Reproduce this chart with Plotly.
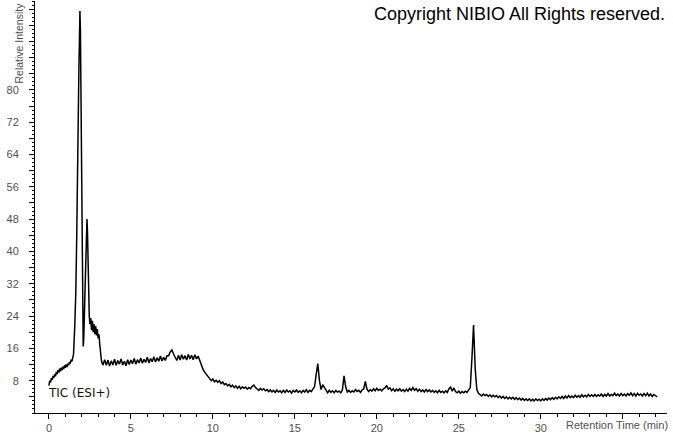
import plotly.graph_objects as go

# --- early region (explicit retention time / intensity pairs) ---
early_time = [0.00, 0.05, 0.10, 0.15, 0.20, 0.25, 0.30, 0.35, 0.40, 0.45,
              0.50, 0.55, 0.60, 0.65, 0.70, 0.75, 0.80, 0.85, 0.90, 0.95,
              1.00, 1.05, 1.10, 1.15, 1.20, 1.25, 1.30, 1.35, 1.40, 1.45,
              1.50, 1.58, 1.64, 1.70, 1.76, 1.80, 1.83, 1.86, 1.89, 1.92,
              1.95, 1.99, 2.03, 2.06, 2.09, 2.12, 2.16, 2.20, 2.24, 2.28,
              2.32, 2.35, 2.38, 2.42, 2.46, 2.50, 2.55, 2.60, 2.65, 2.70,
              2.75, 2.80, 2.85, 2.90, 2.95, 3.00, 3.05, 3.10, 3.15, 3.20, 3.25]
early_intensity = [6.8, 8.0, 7.6, 8.6, 8.2, 9.2, 8.7, 9.6, 9.1, 10.2,
                   9.6, 10.6, 10.0, 11.0, 10.3, 11.2, 10.6, 11.5, 10.9, 11.8,
                   11.2, 12.0, 11.4, 12.2, 11.8, 12.6, 12.4, 13.0, 12.8, 13.5,
                   14.5, 22.0, 30.0, 45.0, 70.0, 82.0, 86.0, 92.0, 99.5, 95.0,
                   80.0, 62.0, 32.0, 20.0, 16.5, 18.0, 24.0, 32.0, 40.0, 44.0,
                   48.0, 45.0, 36.0, 28.0, 24.0, 22.0, 23.5, 20.5, 22.8, 20.0,
                   22.0, 19.5, 21.5, 19.2, 20.8, 18.5, 19.5, 17.0, 14.5, 13.0, 12.2]

# --- later region, sampled every 0.1 min starting at 3.3 min ---
later_start = 3.3
later_step = 0.1
later_intensity = [
    12.0, 13.2, 11.8, 13.1, 11.6, 12.9, 11.9, 13.3, 11.8, 13.0,   # 3.3
    12.1, 13.4, 11.9, 12.8, 11.7, 13.2, 12.0, 13.1, 12.2, 13.5,   # 4.3
    12.1, 13.2, 12.4, 13.6, 12.3, 13.3, 12.5, 13.8, 12.4, 13.5,   # 5.3
    12.7, 13.9, 12.6, 13.7, 12.8, 14.1, 12.9, 13.8, 13.0, 14.2,   # 6.3
    14.2, 15.1, 15.6, 14.6, 13.9, 13.0, 14.3, 13.1, 14.4, 13.3,   # 7.3
    14.2, 13.1, 14.5, 13.4, 14.3, 13.2, 14.4, 13.4, 14.1, 12.9,   # 8.3
    11.9, 10.8, 10.1, 9.5, 8.9, 8.6, 8.0, 8.4, 7.7, 8.1,          # 9.3
    7.6, 8.0, 7.3, 7.7, 7.0, 7.3, 6.7, 7.1, 6.5, 6.9,             # 10.3
    6.3, 6.7, 6.1, 6.6, 6.0, 6.5, 6.1, 6.4, 5.9, 6.3,             # 11.3
    6.0, 6.6, 6.9, 6.3, 6.0, 5.6, 6.1, 5.7, 6.0, 5.5,             # 12.3
    5.8, 5.3, 5.7, 5.2, 5.6, 5.1, 5.7, 5.2, 5.5, 5.0,             # 13.3
    5.6, 5.1, 5.7, 5.2, 5.5, 4.9, 5.6, 5.2, 5.7, 5.1,             # 14.3
    5.5, 5.0, 5.6, 5.2, 5.8, 5.1, 5.6, 5.3, 5.9, 6.5,             # 15.3
    9.5, 12.2, 8.0, 5.8, 7.0, 6.2, 5.4, 5.0, 5.6, 5.1,            # 16.3
    5.5, 5.0, 5.6, 5.2, 5.4, 5.0, 5.7, 9.2, 6.5, 5.2,             # 17.3
    5.6, 5.1, 5.5, 5.2, 5.8, 5.3, 5.6, 5.1, 5.7, 6.0,             # 18.3
    7.8, 5.9, 5.3, 5.8, 5.4, 6.0, 5.5, 6.1, 5.6, 5.9,             # 19.3
    5.5, 6.0, 6.2, 6.8, 5.9, 6.2, 5.5, 6.0, 5.4, 5.9,             # 20.3
    5.5, 6.0, 5.4, 5.8, 5.3, 5.9, 5.4, 6.1, 5.6, 6.3,             # 21.3
    5.6, 6.0, 5.4, 5.9, 5.3, 5.7, 5.2, 5.8, 5.3, 5.7,             # 22.3
    5.2, 5.6, 5.1, 5.5, 5.0, 5.6, 5.1, 5.4, 5.0, 5.5,             # 23.3
    5.1, 6.0, 6.4, 5.4, 6.2, 5.3, 5.0, 5.4, 4.9, 5.3,             # 24.3
    5.0, 5.4, 5.1, 5.6, 6.3, 13.5, 21.8, 11.0, 5.8, 4.9,          # 25.3
    4.6, 4.2, 4.7, 4.3, 4.6, 4.1, 4.5, 4.0, 4.4, 4.0,             # 26.3
    4.3, 3.8, 4.2, 3.7, 4.1, 3.6, 4.0, 3.5, 3.9, 3.5,             # 27.3
    3.9, 3.4, 3.8, 3.3, 3.7, 3.2, 3.6, 3.1, 3.5, 3.1,             # 28.3
    3.5, 3.0, 3.4, 3.0, 3.5, 3.1, 3.4, 3.0, 3.5, 3.1,             # 29.3
    3.6, 3.2, 3.7, 3.3, 3.8, 3.4, 3.9, 3.5, 4.0, 3.6,             # 30.3
    4.1, 3.6, 4.2, 3.7, 4.3, 3.8, 4.2, 3.8, 4.4, 3.9,             # 31.3
    4.3, 3.9, 4.5, 4.0, 4.4, 4.0, 4.6, 4.1, 4.5, 4.1,             # 32.3
    4.6, 4.1, 4.5, 4.2, 4.7, 4.1, 4.6, 4.2, 4.8, 4.2,             # 33.3
    4.6, 4.3, 4.9, 4.3, 4.7, 4.2, 4.8, 4.3, 4.7, 4.2,             # 34.3
    4.8, 4.4, 5.0, 4.3, 4.8, 4.2, 4.9, 4.4, 4.7, 4.2,             # 35.3
    4.8, 4.3, 4.9, 4.2, 4.7, 4.1, 4.6, 4.2, 4.0,                  # 36.3
]

x_tick_vals = [0, 5, 10, 15, 20, 25, 30, 35]
x_tick_text = ["0", "5", "10", "15", "20", "25", "30", ""]
y_tick_vals = [4, 8, 12, 16, 20, 24, 28, 32, 36, 40, 44, 48, 52, 56, 60,
               64, 68, 72, 76, 80, 84, 88, 92, 96, 100]
y_tick_text = ["", "8", "", "16", "", "24", "", "32", "", "40", "", "48", "",
               "56", "", "64", "", "72", "", "80", "", "", "", "", ""]

later_time = [round(later_start + later_step * i, 2) for i in range(len(later_intensity))]
time = early_time + later_time
intensity = early_intensity + later_intensity

fig = go.Figure()
fig.add_trace(go.Scatter(x=time, y=intensity, mode="lines",
                         line=dict(color="black", width=1.5),
                         hoverinfo="skip", showlegend=False))

tick_font = dict(family="Liberation Sans, Arial, sans-serif", size=11, color="#505050")

fig.update_layout(
    width=673, height=433,
    margin=dict(l=35, r=6, t=1, b=20),
    paper_bgcolor="white", plot_bgcolor="white",
    showlegend=False,
    xaxis=dict(range=[-0.85, 37.7], showgrid=False, zeroline=False,
               showline=True, linecolor="black", linewidth=1,
               tickmode="array", tickvals=x_tick_vals, ticktext=x_tick_text,
               ticks="outside", ticklen=5, tickcolor="black", tickfont=tick_font,
               automargin=False,
               minor=dict(dtick=1, ticklen=3, ticks="outside", tickcolor="black", showgrid=False)),
    yaxis=dict(range=[0, 102], showgrid=False, zeroline=False,
               showline=True, linecolor="black", linewidth=1,
               tickmode="array", tickvals=y_tick_vals, ticktext=y_tick_text,
               ticks="outside", ticklen=5, tickcolor="black", tickfont=tick_font,
               ticklabelstandoff=8, automargin=False,
               minor=dict(dtick=1, ticklen=2, ticks="outside", tickcolor="black", showgrid=False)),
)

fig.add_annotation(text="Copyright NIBIO All Rights reserved.",
                   xref="paper", yref="paper", x=(667 - 35) / 632, y=(413.4 - 14) / 412.4,
                   xanchor="right", yanchor="middle", showarrow=False,
                   font=dict(family="Liberation Sans, Arial, sans-serif", size=18, color="black"))
fig.add_annotation(text="Relative Intensity", textangle=-90,
                   xref="paper", yref="paper", x=(18 - 35) / 632, y=(413.4 - 1) / 412.4,
                   xanchor="center", yanchor="top", showarrow=False,
                   font=dict(family="Liberation Sans, Arial, sans-serif", size=10.5, color="#505050"))
fig.add_annotation(text="Retention Time (min)",
                   xref="paper", yref="paper", x=(670 - 35) / 632, y=(413.4 - 425) / 412.4,
                   xanchor="right", yanchor="middle", showarrow=False,
                   font=dict(family="Liberation Sans, Arial, sans-serif", size=11, color="#505050"))
fig.add_annotation(text="TIC (ESI+)", xref="x", yref="y", x=-0.15, y=5.0,
                   xanchor="left", yanchor="middle", showarrow=False,
                   font=dict(family="DejaVu Sans, sans-serif", size=12, color="#111111"))

fig.write_html("out.html", config={"displayModeBar": False},
               post_script="document.body.style.margin='0';document.body.style.overflow='hidden';")
